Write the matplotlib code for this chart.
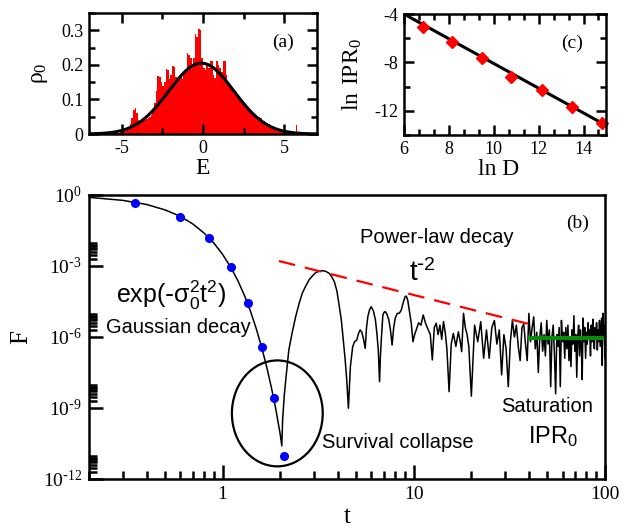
import numpy as np
import matplotlib
matplotlib.use('Agg')
import matplotlib.pyplot as plt
from matplotlib.patches import Ellipse
from matplotlib.ticker import FixedLocator, MultipleLocator, FuncFormatter, NullFormatter

plt.rcParams['axes.unicode_minus'] = False
SERIF = 'Liberation Serif'
SANS = 'Liberation Sans'

# ---------------- data: panel (a) ----------------
E_start, E_bin = -6.5, 0.1
rho_hist = [0, 0, 0.001, 0, 0.001,
            0.002, 0.001, 0.002, 0.003, 0.002,
            0.003, 0.004, 0.005, 0.004, 0.006,
            0.008, 0.01, 0.012, 0.015, 0.02,
            0.03, 0.045, 0.07, 0.076, 0.06,
            0.04, 0.035, 0.035, 0.038, 0.04,
            0.042, 0.045, 0.05, 0.055, 0.07,
            0.09, 0.125, 0.168, 0.165, 0.15,
            0.14, 0.15, 0.187, 0.185, 0.16,
            0.17, 0.197, 0.195, 0.165, 0.16,
            0.165, 0.17, 0.16, 0.175, 0.18,
            0.235, 0.23, 0.22, 0.2, 0.22,
            0.29, 0.28, 0.303, 0.3, 0.22,
            0.19, 0.185, 0.2, 0.19, 0.21,
            0.21, 0.17, 0.163, 0.21, 0.2,
            0.19, 0.18, 0.21, 0.21, 0.17,
            0.15, 0.14, 0.135, 0.13, 0.12,
            0.11, 0.105, 0.1, 0.095, 0.09,
            0.085, 0.08, 0.075, 0.07, 0.065,
            0.06, 0.055, 0.05, 0.052, 0.048,
            0.045, 0.04, 0.037, 0.032, 0.03,
            0.028, 0.025, 0.02, 0.018, 0.015,
            0.013, 0.012, 0.01, 0.009, 0.008,
            0.007, 0.006, 0.008, 0.006, 0.006,
            0.005, 0.004, 0.027, 0.004, 0.004,
            0.003, 0.006, 0.002, 0.002, 0.001]
gauss_amp, gauss_mu, gauss_sigma = 0.205, -0.1, 2.0

# ---------------- data: panel (c) ----------------
lnD = [6.83, 8.14, 9.46, 10.79, 12.13, 13.47, 14.81]
lnIPR = [-5.09, -6.34, -7.65, -9.18, -10.32, -11.67, -13.04]
fit_slope, fit_intercept = -1.022, 2.13

# ---------------- data: panel (b) ----------------
t_main = [0.2, 0.3, 0.4, 0.5, 0.6, 0.7, 0.8, 0.9, 1.0, 1.1, 1.2, 1.3, 1.4, 1.5, 1.6, 1.7, 1.8, 1.9, 1.95, 2.0, 2.04,
          2.06, 2.1, 2.14, 2.22, 2.3, 2.41, 2.51, 2.61, 2.72, 2.83, 2.95, 3.07, 3.2, 3.33, 3.47, 3.61, 3.72, 3.84, 3.96,
          4.08, 4.18, 4.28, 4.37, 4.46, 4.55,
          4.66, 4.79, 4.9, 5.03, 5.14, 5.24, 5.35, 5.46, 5.57, 5.66, 5.75, 5.87, 5.99, 6.15, 6.3, 6.42, 6.52, 6.62,
          6.69, 6.76, 6.89, 7.0, 7.1, 7.25, 7.4, 7.55, 7.7,
          7.85, 8.0, 8.2, 8.4, 8.6, 8.8, 9.0, 9.14, 9.3, 9.5,
          9.7, 9.9, 10.1, 10.3, 10.6, 10.9, 11.2, 11.5, 11.9, 12.2,
          12.5, 12.8, 13.1, 13.4, 13.7, 14.0, 14.3, 14.6, 14.9, 15.3,
          15.7, 16.1, 16.6, 17.1, 17.5, 17.8, 18.2, 18.6, 19.0, 19.4]
logF_main = [-0.10, -0.226, -0.40, -0.63, -0.90, -1.23, -1.61, -2.03, -2.51, -3.04, -3.61, -4.24, -4.92, -5.65,
             -6.43, -7.26, -8.14, -9.07, -9.6, -10.1, -10.6,
             -9.5, -8.5, -7.8, -6.55, -5.9, -5.14, -4.6, -4.15, -3.85, -3.59, -3.42, -3.28, -3.22, -3.2, -3.23,
             -3.31, -3.45, -3.66, -4.05, -4.72, -5.3, -6.13, -6.9, -7.82, -9.01,
             -7.25, -6.41, -6.2, -6.13, -5.85, -5.70, -5.8, -6.1, -6.48, -5.6, -5.14, -4.85, -4.72, -4.9, -5.28,
             -5.9, -6.55, -7.89, -6.8, -6.13, -5.07, -4.95, -4.93, -5.05, -5.28, -5.7, -6.34,
             -5.6, -5.2, -5.0, -5.0, -4.86, -4.55, -4.3, -4.27, -4.45, -4.95,
             -5.42, -6.2, -5.9, -5.7, -5.4, -5.5, -5.07, -5.4, -5.7, -5.9,
             -6.97, -5.6, -5.42, -5.9, -5.5, -6.1, -5.35, -5.8, -6.5, -8.31,
             -6.3, -5.85, -6.4, -5.78, -6.2, -6.62, -5.0, -5.6, -5.9, -6.4]
# long-time fluctuating part, sampled every 0.8 from t = 20
t_noise_start, t_noise_step = 20.0, 0.8
logF_noise = [-8.5, -5.5, -6.2, -5.35, -6.9, -5.7, -6.9, -5.6, -5.3, -6.3,
              -5.7, -7.6, -5.9, -6.5, -8.1, -6.2, -5.3, -6.0, -5.5, -6.4,
              -7.0, -5.6, -5.45, -6.3, -7.0, -5.0, -6.2, -5.6, -5.15, -6.5,
              -5.8, -7.5, -6.0, -5.4, -6.6, -5.9, -6.8, -5.3, -6.3, -5.7,
              -8.1, -6.0, -5.5, -6.7, -8.4, -5.9, -6.4, -5.6, -8.1, -5.3,
              -6.2, -5.8, -6.9, -5.6, -6.5, -5.5, -7.0, -6.1, -7.25, -5.7,
              -6.3, -5.1, -6.6, -5.9, -7.7, -6.0, -5.5, -6.8, -5.7, -6.4,
              -7.8, -5.2, -6.2, -5.6, -6.9, -5.8, -6.3, -5.4, -6.1, -5.7,
              -6.8, -5.5, -6.2, -5.25, -6.0, -6.5, -5.6, -6.1, -5.4, -6.55,
              -5.7, -6.2, -5.3, -6.4, -5.8, -5.2, -7.2, -5.0, -6.1, -5.5,
              -6.9]
t_gauss_pts = [0.35, 0.6, 0.85, 1.1, 1.35, 1.6, 1.85, 2.1]
logF_gauss_pts = [-0.325, -0.917, -1.83, -3.04, -4.58, -6.41, -8.58, -11.03]
t_powerlaw = [1.97, 40.0]
logF_powerlaw = [-2.79, -5.45]
t_sat = [40.5, 100.0]
logF_sat = [-6.04, -6.04]

# ---------------- figure ----------------
fig = plt.figure(figsize=(6.24, 5.27), dpi=100)


def style_box(ax, lw=1.8):
    for s in ax.spines.values():
        s.set_linewidth(lw)


# ---- panel (a)
axa = fig.add_axes([0.1426, 0.7457, 0.3654, 0.2296])
edges = E_start + E_bin * np.arange(len(rho_hist) + 1)
rho_step = np.append(rho_hist, rho_hist[-1])
axa.fill_between(edges, 0, rho_step, step='post', facecolor='#ff0000', edgecolor='none', lw=0)
Eg = np.linspace(-7, 7, 400)
axa.plot(Eg, gauss_amp * np.exp(-(Eg - gauss_mu) ** 2 / (2 * gauss_sigma ** 2)), color='k', lw=2.2)
axa.set_xlim(-7, 7)
axa.set_ylim(0, 0.35)
axa.xaxis.set_major_locator(MultipleLocator(5))
axa.xaxis.set_minor_locator(MultipleLocator(2.5))
axa.yaxis.set_major_locator(MultipleLocator(0.1))
axa.yaxis.set_minor_locator(MultipleLocator(0.05))
axa.xaxis.set_major_formatter(FuncFormatter(lambda v, p: '%g' % round(v, 3)))
axa.yaxis.set_major_formatter(FuncFormatter(lambda v, p: '%g' % round(v, 3)))
axa.tick_params(which='both', direction='in', top=True, right=True, width=1.8)
axa.tick_params(which='major', length=7, labelsize=13, pad=4)
axa.tick_params(which='minor', length=4)
for lab in axa.get_xticklabels() + axa.get_yticklabels():
    lab.set_fontfamily(SERIF)
style_box(axa)
axa.set_xlabel('E', fontfamily=SERIF, fontsize=17)
axa.set_ylabel(r'$\mathregular{ρ_0}$', fontfamily=SERIF, fontsize=17)
axa.xaxis.set_label_coords(0.5, -0.2)
axa.yaxis.set_label_coords(-0.17, 0.5)
axa.text(0.85, 0.76, '(a)', transform=axa.transAxes, ha='center', va='center', fontfamily=SERIF, fontsize=14)

# ---- panel (c)
axc = fig.add_axes([0.6474, 0.7438, 0.3237, 0.2296])
xl = np.array([6, 15])
axc.plot(xl, fit_intercept + fit_slope * xl, color='k', lw=2.2)
axc.plot(lnD, lnIPR, linestyle='none', marker='D', color='#ff0000', markersize=6.5, clip_on=False)
axc.set_xlim(6, 15)
axc.set_ylim(-14, -4)
axc.xaxis.set_major_locator(MultipleLocator(2))
axc.xaxis.set_minor_locator(MultipleLocator(2 / 3))
axc.yaxis.set_major_locator(MultipleLocator(4))
axc.yaxis.set_minor_locator(MultipleLocator(2))
axc.xaxis.set_major_formatter(FuncFormatter(lambda v, p: '%g' % round(v, 3)))
axc.yaxis.set_major_formatter(FuncFormatter(lambda v, p: '%g' % round(v, 3)))
axc.tick_params(which='both', direction='in', top=True, right=True, width=1.8)
axc.tick_params(which='major', length=7, labelsize=13, pad=4)
axc.tick_params(which='minor', length=4)
for lab in axc.get_xticklabels() + axc.get_yticklabels():
    lab.set_fontfamily(SERIF)
style_box(axc)
axc.set_xlabel('ln D', fontfamily=SERIF, fontsize=17)
axc.set_ylabel(r'$\mathregular{ln\ IPR_0}$', fontfamily=SERIF, fontsize=17)
axc.xaxis.set_label_coords(0.47, -0.2)
axc.yaxis.set_label_coords(-0.2, 0.5)
axc.text(0.83, 0.76, '(c)', transform=axc.transAxes, ha='center', va='center', fontfamily=SERIF, fontsize=14)

# ---- panel (b)
axb = fig.add_axes([0.1426, 0.0911, 0.8269, 0.5389])
t_noise = t_noise_start + t_noise_step * np.arange(len(logF_noise))
t_all = np.concatenate([t_main, t_noise])
F_all = 10.0 ** np.concatenate([logF_main, logF_noise])
axb.plot(t_all, F_all, color='k', lw=1.1)
axb.plot(t_powerlaw, 10.0 ** np.array(logF_powerlaw), color='#ff0000', lw=1.6, dashes=(7.5, 4.5))
axb.plot(t_sat, 10.0 ** np.array(logF_sat), color='#0a8a0a', lw=3)
axb.plot(t_gauss_pts, 10.0 ** np.array(logF_gauss_pts), linestyle='none', marker='o', color='#0000ff',
         markersize=5.5)
axb.set_xscale('log')
axb.set_yscale('log')
axb.set_xlim(0.2, 100)
axb.set_ylim(1e-12, 1)
axb.xaxis.set_major_locator(FixedLocator([1, 10, 100]))
axb.xaxis.set_minor_locator(FixedLocator([k * 10.0 ** e for e in (-1, 0, 1) for k in range(2, 10)]))
axb.xaxis.set_major_formatter(FuncFormatter(lambda v, p: '%g' % v))
axb.xaxis.set_minor_formatter(NullFormatter())
axb.yaxis.set_major_locator(FixedLocator([1, 1e-3, 1e-6, 1e-9, 1e-12]))
axb.yaxis.set_minor_locator(FixedLocator([k * 10.0 ** e for e in (-3, -6, -9, -12) for k in range(2, 10)]))


def exp_label(v, p):
    e = int(round(np.log10(v)))
    if e < 0:
        return r'$\mathregular{10^{\text{-}%d}}$' % (-e)
    return r'$\mathregular{10^{%d}}$' % e


axb.yaxis.set_major_formatter(FuncFormatter(exp_label))
axb.yaxis.set_minor_formatter(NullFormatter())
axb.tick_params(which='both', direction='in', top=False, right=False, width=1.8)
axb.tick_params(which='major', length=10, labelsize=14, pad=5)
axb.tick_params(which='minor', length=6)
for lab in axb.get_xticklabels() + axb.get_yticklabels():
    lab.set_fontfamily(SERIF)
style_box(axb)
axb.set_xlabel('t', fontfamily=SERIF, fontsize=18)
axb.set_ylabel('F', fontfamily=SERIF, fontsize=18)
axb.xaxis.set_label_coords(0.5, -0.095)
axb.yaxis.set_label_coords(-0.11, 0.5)

axb.add_patch(Ellipse((0.365, 0.231), 0.176, 0.373, transform=axb.transAxes, fill=False, ec='k', lw=1.6))
axb.text(0.946, 0.90, '(b)', transform=axb.transAxes, ha='center', va='center', fontfamily=SERIF, fontsize=14)
axb.text(0.674, 0.852, 'Power-law decay', transform=axb.transAxes, ha='center', va='center',
         fontfamily=SANS, fontsize=14.5)
axb.text(0.647, 0.725, r'$\mathregular{t^{\text{-}2}}$', transform=axb.transAxes, ha='center', va='center',
         fontfamily=SANS, fontsize=20)
axb.text(0.160, 0.648, r'$\mathregular{exp(\text{-}\sigma_0^2t^2)}$', transform=axb.transAxes, ha='center',
         va='center', fontfamily=SANS, fontsize=18)
axb.text(0.1725, 0.535, 'Gaussian decay', transform=axb.transAxes, ha='center', va='center',
         fontfamily=SANS, fontsize=14.5)
axb.text(0.599, 0.127, 'Survival collapse', transform=axb.transAxes, ha='center', va='center',
         fontfamily=SANS, fontsize=14.5)
axb.text(0.888, 0.255, 'Saturation', transform=axb.transAxes, ha='center', va='center',
         fontfamily=SANS, fontsize=14.5)
axb.text(0.899, 0.15, r'$\mathregular{IPR_0}$', transform=axb.transAxes, ha='center', va='center',
         fontfamily=SANS, fontsize=17)

fig.savefig('out.png', dpi=100)
